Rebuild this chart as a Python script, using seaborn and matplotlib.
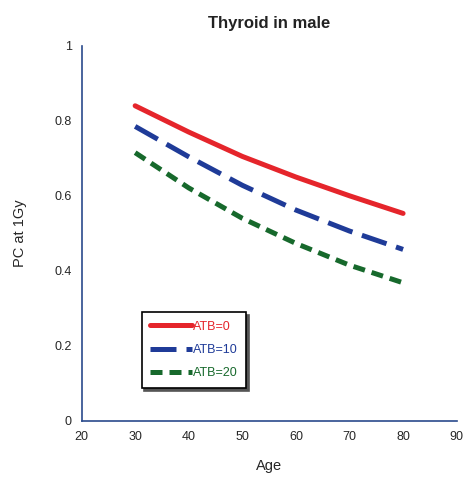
import matplotlib
matplotlib.use("Agg")
import matplotlib.pyplot as plt
import seaborn as sns
import pandas as pd

ages = [30, 40, 50, 60, 70, 80]
atb0 = [0.840, 0.770, 0.705, 0.650, 0.600, 0.553]
atb10 = [0.785, 0.704, 0.628, 0.562, 0.506, 0.457]
atb20 = [0.715, 0.621, 0.540, 0.473, 0.415, 0.368]
labels = ["ATB=0", "ATB=10", "ATB=20"]
xticks = [20, 30, 40, 50, 60, 70, 80, 90]
yticks = [0, 0.2, 0.4, 0.6, 0.8, 1]
ytick_labels = ["0", "0.2", "0.4", "0.6", "0.8", "1"]

rows = []
for lab, vals in zip(labels, [atb0, atb10, atb20]):
    for a, v in zip(ages, vals):
        rows.append({"Age": a, "PC": v, "ATB": lab})
df = pd.DataFrame(rows)

sns.set_style("white")
plt.rcParams['font.family'] = ['Liberation Sans', 'DejaVu Sans']

colors = {"ATB=0": "#e5252b", "ATB=10": "#1f3b98", "ATB=20": "#17692c"}
dashes = {"ATB=0": "", "ATB=10": (5.2, 2.0), "ATB=20": (2.4, 1.4)}
axcol = "#2a4a8c"

fig = plt.figure(figsize=(4.66, 4.82), dpi=100)
ax = fig.add_axes([0.175, 0.127, 0.805, 0.778])
sns.lineplot(data=df, x="Age", y="PC", hue="ATB", style="ATB",
             palette=colors, dashes=dashes, linewidth=3.6, ax=ax, legend=False)
for ln in ax.lines:
    ln.set_dash_capstyle("butt")

ax.set_xlim(20, 90)
ax.set_ylim(0, 1)
ax.set_xticks(xticks)
ax.set_yticks(yticks)
ax.set_yticklabels(ytick_labels)
for s in ["top", "right"]:
    ax.spines[s].set_visible(False)
for s in ["left", "bottom"]:
    ax.spines[s].set_color(axcol)
    ax.spines[s].set_linewidth(1.2)
ax.tick_params(direction="in", length=5, width=1.2, color=axcol, labelsize=9, pad=7)
ax.set_xlabel("Age", fontsize=10.5, labelpad=12)
ax.set_ylabel("PC at 1Gy", fontsize=10.5, labelpad=20)
ax.set_title("Thyroid in male", fontsize=12, fontweight="bold", pad=13, color="#222222")

from matplotlib.lines import Line2D
handles = [Line2D([0], [0], color=colors[l], lw=3.6,
                  linestyle="-" if dashes[l] == "" else (0, dashes[l]))
           for l in labels]
leg = ax.legend(handles, labels, loc="upper left", bbox_to_anchor=(0.16, 0.29),
                frameon=True, fancybox=False, shadow={"ox": 2, "oy": -2, "color": "#555555", "alpha": 1},
                fontsize=9, handlelength=3.3, handletextpad=0.1, borderpad=0.7,
                labelspacing=0.9, borderaxespad=0)
leg.get_frame().set_edgecolor("black")
leg.get_frame().set_linewidth(1.2)
for t, l in zip(leg.get_texts(), labels):
    t.set_color(colors[l])

fig.savefig("out.png", dpi=100)
